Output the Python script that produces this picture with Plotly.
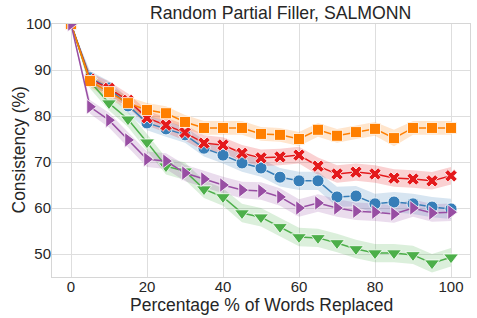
import plotly.graph_objects as go

x_pct = [0, 5, 10, 15, 20, 25, 30, 35, 40, 45, 50, 55, 60, 65, 70, 75, 80, 85, 90, 95, 100]

blue_vals   = [100, 88.3, 86.1, 82.2, 78.5, 77.2, 75.9, 73.0, 71.5, 69.8, 68.7, 66.7, 65.9, 65.9, 62.4, 62.6, 60.9, 61.3, 60.9, 60.2, 59.8]
red_vals    = [100, 88.0, 86.0, 83.4, 79.6, 78.0, 76.4, 74.1, 73.7, 71.9, 70.9, 71.1, 71.5, 69.1, 67.4, 67.8, 67.4, 66.5, 66.3, 65.9, 67.0]
green_vals  = [100, 87.5, 82.8, 79.3, 74.3, 69.1, 68.0, 64.1, 62.4, 58.9, 58.0, 55.9, 53.7, 53.5, 52.4, 51.1, 50.2, 50.2, 49.8, 48.0, 49.3]
purple_vals = [100, 82.0, 79.1, 74.8, 70.6, 70.2, 67.6, 66.3, 65.0, 63.9, 63.7, 62.4, 60.0, 61.1, 60.0, 59.3, 59.1, 58.7, 60.0, 58.9, 59.1]
orange_vals = [100, 87.6, 85.2, 82.8, 81.3, 80.6, 78.7, 77.4, 77.4, 77.4, 76.1, 75.9, 75.0, 77.0, 75.7, 76.5, 77.2, 75.2, 77.4, 77.4, 77.4]

blue_ci   = [0, 1.5, 1.5, 1.6, 1.6, 1.7, 1.7, 1.8, 1.8, 1.9, 1.9, 2.0, 2.0, 2.0, 2.2, 2.2, 2.2, 2.2, 2.2, 2.2, 2.2]
red_ci    = [0, 1.4, 1.5, 1.5, 1.6, 1.6, 1.7, 1.7, 1.7, 1.8, 1.8, 1.8, 1.8, 1.9, 1.9, 1.9, 1.9, 1.9, 1.9, 1.9, 1.9]
green_ci  = [0, 1.5, 1.6, 1.7, 1.8, 1.8, 1.9, 1.9, 1.9, 2.0, 2.0, 2.0, 2.0, 2.0, 2.0, 2.0, 2.0, 2.0, 2.0, 2.0, 2.0]
purple_ci = [0, 1.5, 1.6, 1.6, 1.7, 1.7, 1.8, 1.8, 1.8, 1.8, 1.9, 1.9, 1.9, 1.9, 1.9, 1.9, 1.9, 1.9, 1.9, 1.9, 1.9]
orange_ci = [0, 1.3, 1.4, 1.4, 1.5, 1.5, 1.5, 1.5, 1.5, 1.5, 1.5, 1.5, 1.5, 1.5, 1.5, 1.5, 1.5, 1.8, 1.5, 1.5, 1.5]

x_title = "Percentage % of Words Replaced"
y_title = "Consistency (%)"
chart_title = "Random Partial Filler, SALMONN"

series = [
    ("blue", blue_vals, blue_ci, "#377eb8", "circle", 12),
    ("red", red_vals, red_ci, "#e41a1c", "x", 11),
    ("green", green_vals, green_ci, "#4daf4a", "triangle-down", 13),
    ("orange", orange_vals, orange_ci, "#ff7f00", "square", 11),
    ("purple", purple_vals, purple_ci, "#984ea3", "triangle-right", 13),
]

def rgba(hex_color, a):
    h = hex_color.lstrip("#")
    r, g, b = int(h[0:2], 16), int(h[2:4], 16), int(h[4:6], 16)
    return f"rgba({r},{g},{b},{a})"

fig = go.Figure()
for name, vals, ci, color, sym, size in series:
    upper = [v + c for v, c in zip(vals, ci)]
    lower = [v - c for v, c in zip(vals, ci)]
    fig.add_trace(go.Scatter(
        x=x_pct + x_pct[::-1], y=upper + lower[::-1],
        fill="toself", fillcolor=rgba(color, 0.2), line=dict(width=0),
        hoverinfo="skip", showlegend=False, mode="lines"))
for name, vals, ci, color, sym, size in series:
    fig.add_trace(go.Scatter(
        x=x_pct, y=vals, mode="lines+markers", name=name, showlegend=False,
        line=dict(color=color, width=1.5),
        marker=dict(symbol=sym, size=size, color=color,
                    line=dict(color="white", width=0.8))))

font_family = "Liberation Sans, Arial, sans-serif"
fig.update_layout(
    width=477, height=318,
    margin=dict(l=52, r=7, t=24, b=41),
    paper_bgcolor="white", plot_bgcolor="white",
    font=dict(family=font_family, color="#262626", size=15),
    title=dict(text=chart_title, x=0.547, xanchor="center",
               xref="paper", y=1 - 13 / 318, yref="container", yanchor="middle",
               font=dict(size=17.7, color="#262626")),
    showlegend=False,
    annotations=[
        dict(text=x_title, xref="paper", yref="paper", x=0.5, y=-28 / 253,
             xanchor="center", yanchor="middle", showarrow=False,
             font=dict(size=17.5, color="#262626")),
        dict(text=y_title, xref="paper", yref="paper", x=-34 / 418, y=0.5,
             xanchor="center", yanchor="middle", showarrow=False, textangle=-90,
             font=dict(size=17.5, color="#262626")),
    ],
)
fig.update_xaxes(
    range=[-5, 105], tickvals=[0, 20, 40, 60, 80, 100],
    showgrid=True, gridcolor="#dedede", gridwidth=1,
    showline=True, linecolor="#d6d6d6", linewidth=1, mirror=True,
    zeroline=False, ticks="", ticklen=0, tickfont=dict(size=15),
    ticklabelstandoff=-4, automargin=False,
)
fig.update_yaxes(
    range=[45, 100], tickvals=[50, 60, 70, 80, 90, 100],
    showgrid=True, gridcolor="#dedede", gridwidth=1,
    showline=True, linecolor="#d6d6d6", linewidth=1, mirror=True,
    zeroline=False, ticks="", ticklen=0, tickfont=dict(size=15),
    ticklabelstandoff=-3, automargin=False,
)

fig.write_html("out.html", config={"displayModeBar": False},
               post_script="document.body.style.margin='0px';")
